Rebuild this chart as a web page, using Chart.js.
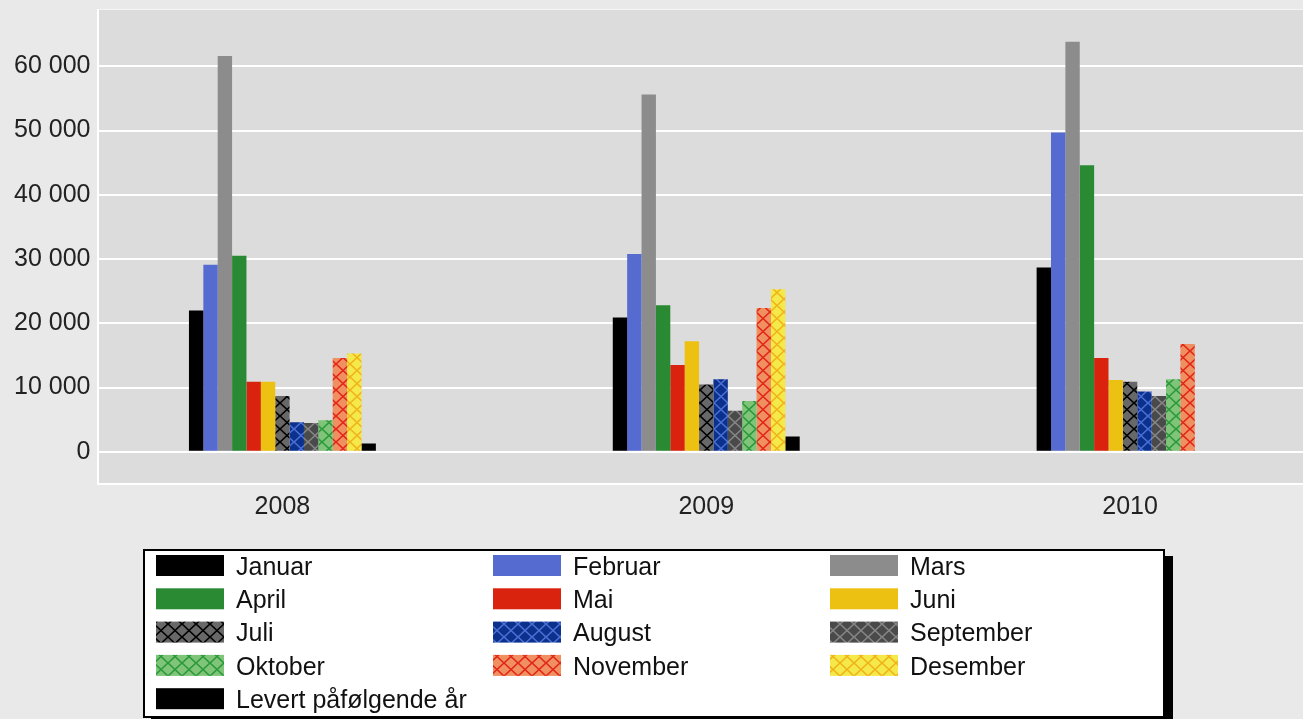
<!DOCTYPE html>
<html lang="no">
  <head>
    <meta charset="UTF-8" />
    <title>Levert per måned</title>
    <script src="https://cdn.jsdelivr.net/npm/chart.js"></script>
    <style>
      html, body { margin: 0; padding: 0; background: #e9e9e9; overflow: hidden; }
      #wrap { position: relative; width: 1303px; height: 719px; }
    </style>
  </head>
  <body>
    <div id="wrap"><canvas id="myChart" width="1303" height="719"></canvas></div>

    <script>
      // ---- data ----
      const years = ["2008", "2009", "2010"];
      const months = ["Januar", "Februar", "Mars", "April", "Mai", "Juni", "Juli", "August",
        "September", "Oktober", "November", "Desember", "Levert påfølgende år"];
      const januar = [22000, 20900, 28700];
      const februar = [29100, 30800, 49700];
      const mars = [61600, 55600, 63800];
      const april = [30500, 22800, 44600];
      const mai = [10900, 13500, 14600];
      const juni = [10900, 17200, 11200];
      const juli = [8700, 10500, 10900];
      const august = [4600, 11300, 9400];
      const september = [4500, 6400, 8700];
      const oktober = [4900, 7900, 11300];
      const november = [14600, 22400, 16800];
      const desember = [15300, 25300, null];
      const levert = [1300, 2400, null];
      const yTicks = [0, 10000, 20000, 30000, 40000, 50000, 60000];

      const series = [januar, februar, mars, april, mai, juni, juli, august,
        september, oktober, november, desember, levert];

      // cross-hatched fill like the original
      function hatch(bg, line) {
        const c = document.createElement("canvas");
        c.width = 14;
        c.height = 13;
        const g = c.getContext("2d");
        g.fillStyle = bg;
        g.fillRect(0, 0, 14, 13);
        g.strokeStyle = line;
        g.lineWidth = 1.6;
        g.beginPath();
        g.moveTo(0, 0); g.lineTo(14, 13);
        g.moveTo(14, 0); g.lineTo(0, 13);
        g.stroke();
        return g.createPattern(c, "repeat");
      }

      const fills = [
        "#000000", "#566bcf", "#8c8c8c", "#2a8a34", "#d9230f", "#ecc112",
        hatch("#686868", "#000000"),
        hatch("#0b318c", "#4a6fd4"),
        hatch("#4a4a4a", "#858585"),
        hatch("#80c47a", "#2a9a3a"),
        hatch("#f09060", "#e2261a"),
        hatch("#f5e84a", "#f0b418"),
        "#000000",
      ];

      const fmt = (v) => String(v).replace(/\B(?=(\d{3})+(?!\d))/g, " ");

      // grey plot area
      const plotBg = {
        id: "plotBg",
        beforeDraw(chart) {
          const { ctx, chartArea: a } = chart;
          ctx.save();
          ctx.fillStyle = "#dcdcdc";
          ctx.fillRect(a.left, a.top, a.right - a.left, a.bottom - a.top);
          ctx.fillStyle = "#f4f4f4";
          ctx.fillRect(a.left, a.top - 1, a.right - a.left, 1);
          ctx.restore();
        },
      };

      // boxed legend, three columns, with a black drop shadow
      const boxLegend = {
        id: "boxLegend",
        afterDraw(chart) {
          const ctx = chart.ctx;
          const x0 = 143, y0 = 549, w = 1022, h = 169;
          ctx.save();
          ctx.fillStyle = "#000";
          ctx.fillRect(x0 + 8, y0 + 7, w, h);
          ctx.fillStyle = "#fff";
          ctx.fillRect(x0, y0, w, h);
          ctx.strokeStyle = "#000";
          ctx.lineWidth = 2;
          ctx.strokeRect(x0 + 1, y0 + 1, w - 2, h - 2);
          ctx.font = '25px "Liberation Sans", Arial, sans-serif';
          ctx.textBaseline = "middle";
          chart.data.datasets.forEach((ds, i) => {
            const col = i % 3;
            const row = Math.floor(i / 3);
            const sx = 156 + col * 337;
            const sy = 555 + row * 33.3;
            ctx.fillStyle = ds.backgroundColor;
            ctx.fillRect(sx, sy, 68, 21);
            ctx.fillStyle = "#111";
            ctx.fillText(ds.label, sx + 80, sy + 13);
          });
          ctx.restore();
        },
      };

      Chart.defaults.font.family = '"Liberation Sans", Arial, sans-serif';
      Chart.defaults.font.size = 25;
      Chart.defaults.color = "#222";

      const config = {
        type: "bar",
        data: {
          datasets: months.map((m, i) => ({
            label: m,
            data: series[i].map((v, j) => ({ x: j, y: v })),
            backgroundColor: fills[i],
            borderWidth: 0,
            categoryPercentage: 0.441,
            barPercentage: 1,
          })),
        },
        options: {
          responsive: false,
          animation: false,
          layout: { padding: { left: 6, top: 10, right: 0, bottom: 197 } },
          plugins: { legend: { display: false }, tooltip: { enabled: false } },
          scales: {
            x: {
              type: "linear",
              min: -0.434,
              max: 2.408,
              offset: false,
              grid: { display: false },
              border: { color: "#ffffff", width: 2 },
              afterBuildTicks: (s) => { s.ticks = years.map((_, i) => ({ value: i })); },
              ticks: { padding: 0, autoSkip: false, maxRotation: 0, callback: (v) => years[v] },
            },
            y: {
              min: -5000,
              max: 68750,
              grid: { color: "#ffffff", lineWidth: 2, drawTicks: false },
              border: { color: "#ffffff", width: 2 },
              afterBuildTicks: (s) => { s.ticks = yTicks.map((v) => ({ value: v })); },
              afterFit: (s) => { s.paddingTop = 0; s.paddingBottom = 0; },
              ticks: { padding: 8, callback: (v) => fmt(v) },
            },
          },
        },
        plugins: [plotBg, boxLegend],
      };

      new Chart(document.getElementById("myChart"), config);
    </script>
  </body>
</html>
